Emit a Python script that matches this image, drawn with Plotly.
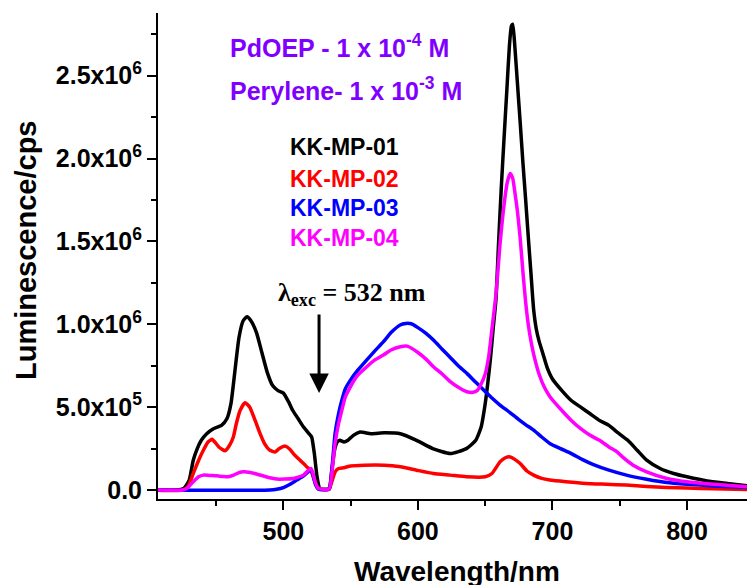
import plotly.graph_objects as go

# Emission spectra (intensity in units of 10^6 cps) vs wavelength (nm)
wl_01 = [405, 420, 426, 430, 433, 436, 439, 443, 448, 454, 458, 461, 464, 467, 470, 473, 476, 480, 484, 488,
         492, 496, 500, 504, 507, 511, 515, 519, 521, 523, 525, 527, 530, 534, 536, 538, 540, 542, 545, 548,
         552, 557, 565, 575, 587, 599, 611, 624, 636, 643, 647, 650, 652, 654, 656, 658, 660, 662, 664, 666,
         668, 669.5, 670.5, 672, 674, 676, 678, 680, 682, 684, 686, 688, 690, 693, 696, 700, 707, 714, 721, 728,
         735, 742, 748, 756, 763, 770, 780, 790, 800, 815, 830, 845]
int_01 = [0.0, 0.0, 0.01, 0.06, 0.18, 0.25, 0.30, 0.34, 0.37, 0.39, 0.43, 0.52, 0.72, 0.92, 1.02, 1.046, 1.02, 0.95, 0.83, 0.71,
          0.63, 0.60, 0.585, 0.53, 0.48, 0.43, 0.38, 0.34, 0.32, 0.22, 0.08, 0.01, 0.005, 0.01, 0.12, 0.24, 0.29, 0.30, 0.29, 0.30,
          0.33, 0.35, 0.34, 0.345, 0.34, 0.30, 0.25, 0.22, 0.25, 0.30, 0.38, 0.52, 0.65, 0.80, 0.98, 1.15, 1.50, 1.83, 2.12, 2.40,
          2.68, 2.80, 2.81, 2.68, 2.45, 2.22, 1.98, 1.76, 1.53, 1.31, 1.09, 0.97, 0.90, 0.82, 0.74, 0.67, 0.60, 0.54, 0.50, 0.46,
          0.42, 0.39, 0.35, 0.30, 0.24, 0.18, 0.13, 0.10, 0.08, 0.055, 0.04, 0.025]

wl_02 = [405, 425, 429, 433, 437, 440.5, 444, 447, 450, 452, 456.7, 460, 462.8, 465, 467.8, 471.5, 475, 479, 482.7, 486,
         490, 493.8, 497, 501.3, 505, 507.4, 511, 515, 518, 520.5, 523, 525, 527, 534, 536, 538.5, 541, 545, 550, 560,
         575, 587, 599, 611.5, 624, 636, 650, 655, 661, 665, 668.6, 672, 676, 681, 686, 692, 698, 710, 725, 740,
         755, 770, 785, 800, 820, 845]
int_02 = [0.0, 0.0, 0.02, 0.10, 0.18, 0.24, 0.29, 0.306, 0.28, 0.26, 0.237, 0.27, 0.32, 0.40, 0.48, 0.527, 0.50, 0.42, 0.34, 0.28,
          0.24, 0.23, 0.25, 0.265, 0.245, 0.22, 0.19, 0.16, 0.135, 0.12, 0.06, 0.02, 0.005, 0.005, 0.05, 0.11, 0.13, 0.135, 0.145, 0.15,
          0.15, 0.14, 0.12, 0.10, 0.09, 0.08, 0.08, 0.10, 0.17, 0.195, 0.20, 0.185, 0.16, 0.115, 0.09, 0.07, 0.06, 0.05, 0.04, 0.035,
          0.03, 0.022, 0.016, 0.012, 0.008, 0.004]

wl_03 = [405, 490, 495, 500, 505, 510, 515, 519, 520.5, 522, 524, 526, 534, 536, 538.4, 541, 543.4, 546, 549.6, 555,
         562, 568, 574.4, 580, 586.8, 591, 595, 600, 606, 611.5, 618, 624, 630, 636.4, 643, 650, 655, 661, 668, 675,
         680, 686, 692, 698.3, 706, 714, 722, 730, 742, 755, 770, 785, 800, 820, 845]
int_03 = [0.0, 0.0, 0.005, 0.015, 0.035, 0.06, 0.085, 0.115, 0.12, 0.09, 0.03, 0.005, 0.005, 0.12, 0.34, 0.46, 0.54, 0.61, 0.66, 0.72,
          0.785, 0.84, 0.895, 0.95, 0.996, 1.005, 1.003, 0.98, 0.945, 0.905, 0.85, 0.80, 0.75, 0.704, 0.65, 0.595, 0.555, 0.513, 0.47, 0.425,
          0.395, 0.362, 0.32, 0.28, 0.25, 0.22, 0.185, 0.155, 0.12, 0.09, 0.065, 0.045, 0.035, 0.025, 0.015]

wl_04 = [405, 425, 429, 433, 437, 440.5, 445, 450.5, 455, 459, 463, 467, 470.3, 474, 480, 487, 495, 501, 507.4, 511,
         514.9, 518, 520.5, 522, 524, 526, 534, 536, 538.4, 541, 543.4, 546, 549.6, 555, 562, 568, 574.4, 580, 587, 592,
         600, 606, 611.5, 618, 624, 630, 636.4, 641, 644, 647, 650, 652.5, 655, 658, 661, 664, 666.5, 668.6, 670.5, 672,
         674, 676, 678, 680, 682, 684, 686, 690, 694, 698, 707, 714, 721, 728, 735, 742, 748, 752, 760, 770,
         785, 800, 820, 845]
int_04 = [0.0, 0.0, 0.015, 0.05, 0.08, 0.09, 0.088, 0.086, 0.082, 0.08, 0.09, 0.105, 0.11, 0.108, 0.097, 0.08, 0.066, 0.066, 0.07, 0.078,
          0.09, 0.115, 0.13, 0.10, 0.04, 0.01, 0.005, 0.10, 0.28, 0.40, 0.48, 0.56, 0.62, 0.69, 0.744, 0.785, 0.815, 0.845, 0.865, 0.868,
          0.83, 0.79, 0.744, 0.70, 0.654, 0.62, 0.593, 0.59, 0.60, 0.64, 0.70, 0.80, 0.97, 1.18, 1.48, 1.72, 1.86, 1.91, 1.88, 1.80,
          1.68, 1.52, 1.32, 1.14, 1.00, 0.90, 0.82, 0.70, 0.62, 0.565, 0.48, 0.42, 0.37, 0.33, 0.30, 0.26, 0.23, 0.20, 0.15, 0.11,
          0.07, 0.05, 0.035, 0.02]

series_names = ["KK-MP-01", "KK-MP-02", "KK-MP-03", "KK-MP-04"]
series_colors = ["#000000", "#FF0000", "#0000FF", "#FF00FF"]

y_tickvals = [0.0, 0.5, 1.0, 1.5, 2.0, 2.5]
y_ticktext = ["0.0", "5.0x10<sup>5</sup>", "1.0x10<sup>6</sup>", "1.5x10<sup>6</sup>",
              "2.0x10<sup>6</sup>", "2.5x10<sup>6</sup>"]
x_tickvals = [500, 600, 700, 800]

W, H = 747, 585
L, R, T, B = 158, 0, 13, 86
x_range = [406.8, 844.6]
y_range = [-0.054, 2.878]

fig = go.Figure()
for wl, inten, name, color in zip([wl_01, wl_02, wl_03, wl_04], [int_01, int_02, int_03, int_04],
                                  series_names, series_colors):
    fig.add_trace(go.Scatter(x=wl, y=inten, mode="lines", name=name,
                             line=dict(color=color, width=3.5, shape="spline", smoothing=0.5)))

bold = dict(family="Liberation Sans", color="black", weight="bold")


def px_x(p):
    return (p - L) / (W - L - R)


def px_y(p):
    return 1 - (p - T) / (H - T - B)


annotations = [
    dict(text="Wavelength/nm", x=px_x(457), y=px_y(571), xref="paper", yref="paper",
         showarrow=False, font=dict(bold, size=28), xanchor="center", yanchor="middle"),
    dict(text="Luminescence/cps", x=px_x(26), y=px_y(250), xref="paper", yref="paper", textangle=-90,
         showarrow=False, font=dict(bold, size=29),
         xanchor="center", yanchor="middle"),
    dict(text="PdOEP - 1 x 10<sup>-4</sup> M", x=px_x(228), y=px_y(46), xref="paper", yref="paper",
         showarrow=False, font=dict(family="Liberation Sans", size=25, color="#7F00FF", weight="bold"),
         xanchor="left", yanchor="middle"),
    dict(text="Perylene- 1 x 10<sup>-3</sup> M", x=px_x(228), y=px_y(89), xref="paper", yref="paper",
         showarrow=False, font=dict(family="Liberation Sans", size=25, color="#7F00FF", weight="bold"),
         xanchor="left", yanchor="middle"),
    dict(text="λ<sub>exc</sub> = 532 nm", x=px_x(276), y=px_y(294), xref="paper", yref="paper",
         showarrow=False, font=dict(family="Liberation Serif", size=26, color="black", weight="bold"),
         xanchor="left", yanchor="middle"),
    dict(text="", x=526.5, y=0.585, xref="x", yref="y", showarrow=True, ax=0, ay=-80,
         arrowhead=2, arrowsize=1.3, arrowwidth=3, arrowcolor="black"),
]
legend_y = [147, 179, 208, 238]
for name, color, yy in zip(series_names, series_colors, legend_y):
    annotations.append(dict(text=name, x=px_x(288), y=px_y(yy), xref="paper", yref="paper",
                            showarrow=False, font=dict(family="Liberation Sans", size=23, color=color, weight="bold"),
                            xanchor="left", yanchor="middle"))

fig.update_layout(
    width=W, height=H,
    margin=dict(l=L, r=R, t=T, b=B, pad=0),
    paper_bgcolor="white", plot_bgcolor="white",
    showlegend=False,
    annotations=annotations,
    xaxis=dict(range=x_range, showgrid=False, zeroline=False, showline=True, linecolor="black", linewidth=2,
               ticks="outside", ticklen=9, tickwidth=2, tickcolor="black", tickvals=x_tickvals,
               tickfont=dict(bold, size=25),
               minor=dict(ticks="outside", ticklen=5, tickwidth=2, tickcolor="black", tick0=450, dtick=100)),
    yaxis=dict(range=y_range, showgrid=False, zeroline=False, showline=True, linecolor="black", linewidth=2,
               ticks="outside", ticklen=9, tickwidth=2, tickcolor="black", tickvals=y_tickvals,
               ticktext=y_ticktext, tickfont=dict(bold, size=25),
               minor=dict(ticks="outside", ticklen=5, tickwidth=2, tickcolor="black", tick0=0.25, dtick=0.5)),
)

fig.write_html("out.html")
